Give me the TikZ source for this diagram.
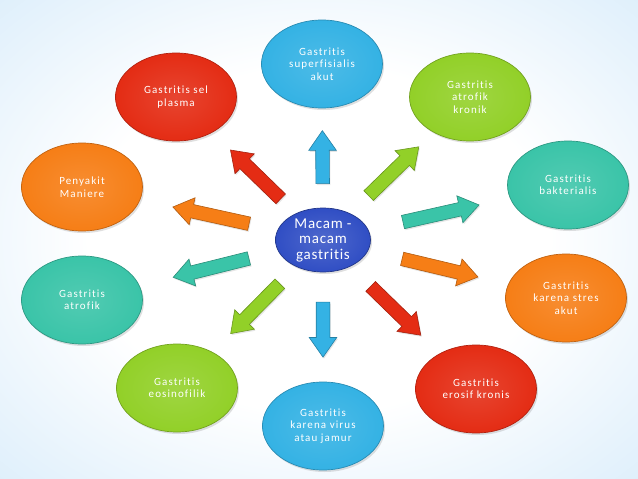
\documentclass[tikz,border=0pt]{standalone}
\usepackage{fontspec}
\setmainfont{Carlito}
\newfontfamily\lblfont[LetterSpace=10, Ligatures={NoCommon}]{Carlito}
\newfontfamily\hubfont[LetterSpace=5, Ligatures={NoCommon}]{Carlito}
\usetikzlibrary{shapes.geometric,shapes.arrows,shadows,calc}
\definecolor{cSky}{RGB}{52,178,228}
\definecolor{cLime}{RGB}{146,208,40}
\definecolor{cTeal}{RGB}{58,196,168}
\definecolor{cOrange}{RGB}{246,126,22}
\definecolor{cRed}{RGB}{228,44,20}
\definecolor{cNavy}{RGB}{48,78,196}
\definecolor{bgBlue}{RGB}{196,226,248}
\pgfdeclareradialshading{bgshade}{\pgfpoint{0bp}{0bp}}{color(0bp)=(white); color(18bp)=(white); color(50bp)=(bgBlue)}
\tikzset{
  topic/.style={ellipse, minimum width=121pt, minimum height=88pt, inner sep=0pt,
    draw=#1!78!black, line width=0.7pt, inner color=#1!88!white, outer color=#1,
    drop shadow={opacity=0.25, shadow xshift=1.5pt, shadow yshift=-2pt},
    text=white, font=\lblfont\fontsize{11}{12.5}\selectfont, align=center},
  hub/.style={ellipse, minimum width=95pt, minimum height=64pt, inner sep=0pt,
    draw=cNavy!70!black, line width=0.7pt, inner color=cNavy!85!white, outer color=cNavy,
    drop shadow={opacity=0.25, shadow xshift=1.5pt, shadow yshift=-2pt},
    text=white, font=\hubfont\fontsize{15}{15.5}\selectfont, align=center},
  fat/.style={single arrow, draw=#1!72!black, fill=#1, inner xsep=0pt, inner ysep=6.5pt,
    line width=0.6pt, minimum width=27pt, single arrow head extend=7pt,
    single arrow tip angle=70, single arrow head indent=0pt, sloped, allow upside down,
    drop shadow={opacity=0.2, shadow xshift=1pt, shadow yshift=-1.5pt}}
}
\begin{document}
\begin{tikzpicture}[x=1pt,y=-1pt]
\useasboundingbox (0,0) rectangle (638,479);
\shade[shading=bgshade] (0,0) rectangle (638,479);
\node[hub] (c) at (323,240) {Macam -\\macam\\gastritis};
\node[topic=cSky] (n1) at (322,64) {Gastritis\\superfisialis\\akut};
\node[topic=cLime] (n2) at (470,97) {Gastritis\\atrofik\\kronik};
\node[topic=cTeal] (n3) at (568,185) {Gastritis\\bakterialis};
\node[topic=cOrange] (n4) at (566,298) {Gastritis\\karena stres\\akut};
\node[topic=cRed] (n5) at (476,389) {Gastritis\\erosif kronis};
\node[topic=cSky] (n6) at (323,426) {Gastritis\\karena virus\\atau jamur};
\node[topic=cLime] (n7) at (177,388) {Gastritis\\eosinofilik};
\node[topic=cTeal] (n8) at (82,300) {Gastritis\\atrofik};
\node[topic=cOrange] (n9) at (82,187) {Penyakit\\Maniere};
\node[topic=cRed] (n10) at (176,97) {Gastritis sel\\plasma};
\path (c) -- (n1) node[fat=cSky, pos=0.46, minimum height=53pt] (a1) {};
\path (c) -- (n2) node[fat=cLime, pos=0.48, minimum height=70pt] (a2) {};
\path (c) -- (n3) node[fat=cTeal, pos=0.48, minimum height=78pt] (a3) {};
\path (c) -- (n4) node[fat=cOrange, pos=0.48, minimum height=78pt] (a4) {};
\path (c) -- (n5) node[fat=cRed, pos=0.47, minimum height=70pt] (a5) {};
\path (c) -- (n6) node[fat=cSky, pos=0.48, minimum height=55pt] (a6) {};
\path (c) -- (n7) node[fat=cLime, pos=0.45, minimum height=70pt] (a7) {};
\path (c) -- (n8) node[fat=cTeal, pos=0.45, minimum height=78pt] (a8) {};
\path (c) -- (n9) node[fat=cOrange, pos=0.45, minimum height=78pt] (a9) {};
\path (c) -- (n10) node[fat=cRed, pos=0.44, minimum height=70pt] (a10) {};
\end{tikzpicture}
\end{document}
